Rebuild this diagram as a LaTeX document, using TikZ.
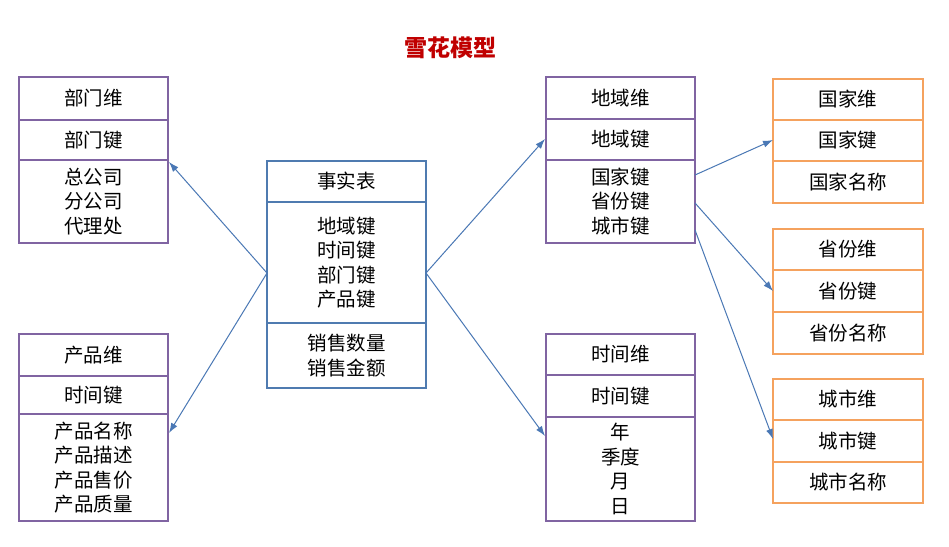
\documentclass[tikz,border=0pt]{standalone}
\usepackage{fontspec}
\newfontfamily\cjk{Noto Sans CJK SC}
\usetikzlibrary{arrows.meta}
\definecolor{dimpurple}{HTML}{8064A2}
\definecolor{factblue}{HTML}{4F7BB0}
\definecolor{subor}{HTML}{F5A25E}
\definecolor{arrblue}{HTML}{4A78B5}
\definecolor{titlered}{HTML}{C00000}
\tikzset{
  x=1pt, y=-1pt,
  row/.style={draw, line width=2.5pt, outer sep=0pt, inner sep=0pt, anchor=north west,
    minimum width=149pt, align=center, font=\cjk\fontsize{19.5}{24.5}\selectfont},
  pur/.style={row, draw=dimpurple},
  blu/.style={row, draw=factblue, minimum width=159pt},
  ora/.style={row, draw=subor, minimum width=150pt},
  arr/.style={draw=arrblue, line width=1pt, -{Latex[length=10pt,width=7pt]}}
}
\begin{document}
\begin{tikzpicture}
\useasboundingbox (0,0) rectangle (949,546);
\fill[white] (0,0) rectangle (949,546);
\node[font=\cjk\bfseries\fontsize{23}{26}\selectfont, text=titlered] (title) at (450,48) {雪花模型};

% department dimension
\node[pur, minimum height=43pt] (d1) at (19,77) {部门维};
\node[pur, minimum height=40pt] (d2) at (19,120) {部门键};
\node[pur, minimum height=83pt] (d3) at (19,160) {总公司\\分公司\\代理处};

% product dimension
\node[pur, minimum height=42pt] (p1) at (19,334) {产品维};
\node[pur, minimum height=38pt] (p2) at (19,376) {时间键};
\node[pur, minimum height=107pt] (p3) at (19,414) {产品名称\\产品描述\\产品售价\\产品质量};

% fact table
\node[blu, minimum height=41pt] (f1) at (267,161) {事实表};
\node[blu, minimum height=121pt] (f2) at (267,202) {地域键\\时间键\\部门键\\产品键};
\node[blu, minimum height=65pt] (f3) at (267,323) {销售数量\\销售金额};

% region dimension
\node[pur, minimum height=42pt] (r1) at (546,77) {地域维};
\node[pur, minimum height=41pt] (r2) at (546,119) {地域键};
\node[pur, minimum height=83pt] (r3) at (546,160) {国家键\\省份键\\城市键};

% time dimension
\node[pur, minimum height=41pt] (t1) at (546,334) {时间维};
\node[pur, minimum height=42pt] (t2) at (546,375) {时间键};
\node[pur, minimum height=104pt] (t3) at (546,417) {年\\季度\\月\\日};

% country
\node[ora, minimum height=41pt] (c1) at (773,79) {国家维};
\node[ora, minimum height=41pt] (c2) at (773,120) {国家键};
\node[ora, minimum height=42pt] (c3) at (773,161) {国家名称};

% province
\node[ora, minimum height=41pt] (s1) at (773,229) {省份维};
\node[ora, minimum height=42pt] (s2) at (773,270) {省份键};
\node[ora, minimum height=42pt] (s3) at (773,312) {省份名称};

% city
\node[ora, minimum height=41pt] (y1) at (773,379) {城市维};
\node[ora, minimum height=42pt] (y2) at (773,420) {城市键};
\node[ora, minimum height=41pt] (y3) at (773,462) {城市名称};

% connectors
\draw[arr] ([yshift=-71pt]f2.north west) -- ([xshift=1pt,yshift=-2pt]d3.north east);
\draw[arr] ([yshift=-71pt]f2.north west) -- ([xshift=1pt,yshift=-19pt]p3.north east);
\draw[arr] ([yshift=-71pt]f2.north east) -- ([xshift=-1pt,yshift=-20pt]r2.north west);
\draw[arr] ([yshift=-71pt]f2.north east) -- ([xshift=-1pt,yshift=-19pt]t3.north west);
\draw[arr] ([yshift=-15pt]r3.north east) -- ([yshift=-20pt]c2.north west);
\draw[arr] ([yshift=-43pt]r3.north east) -- ([yshift=-21pt]s2.north west);
\draw[arr] ([yshift=-70pt]r3.north east) -- ([yshift=-19pt]y2.north west);
\end{tikzpicture}
\end{document}
